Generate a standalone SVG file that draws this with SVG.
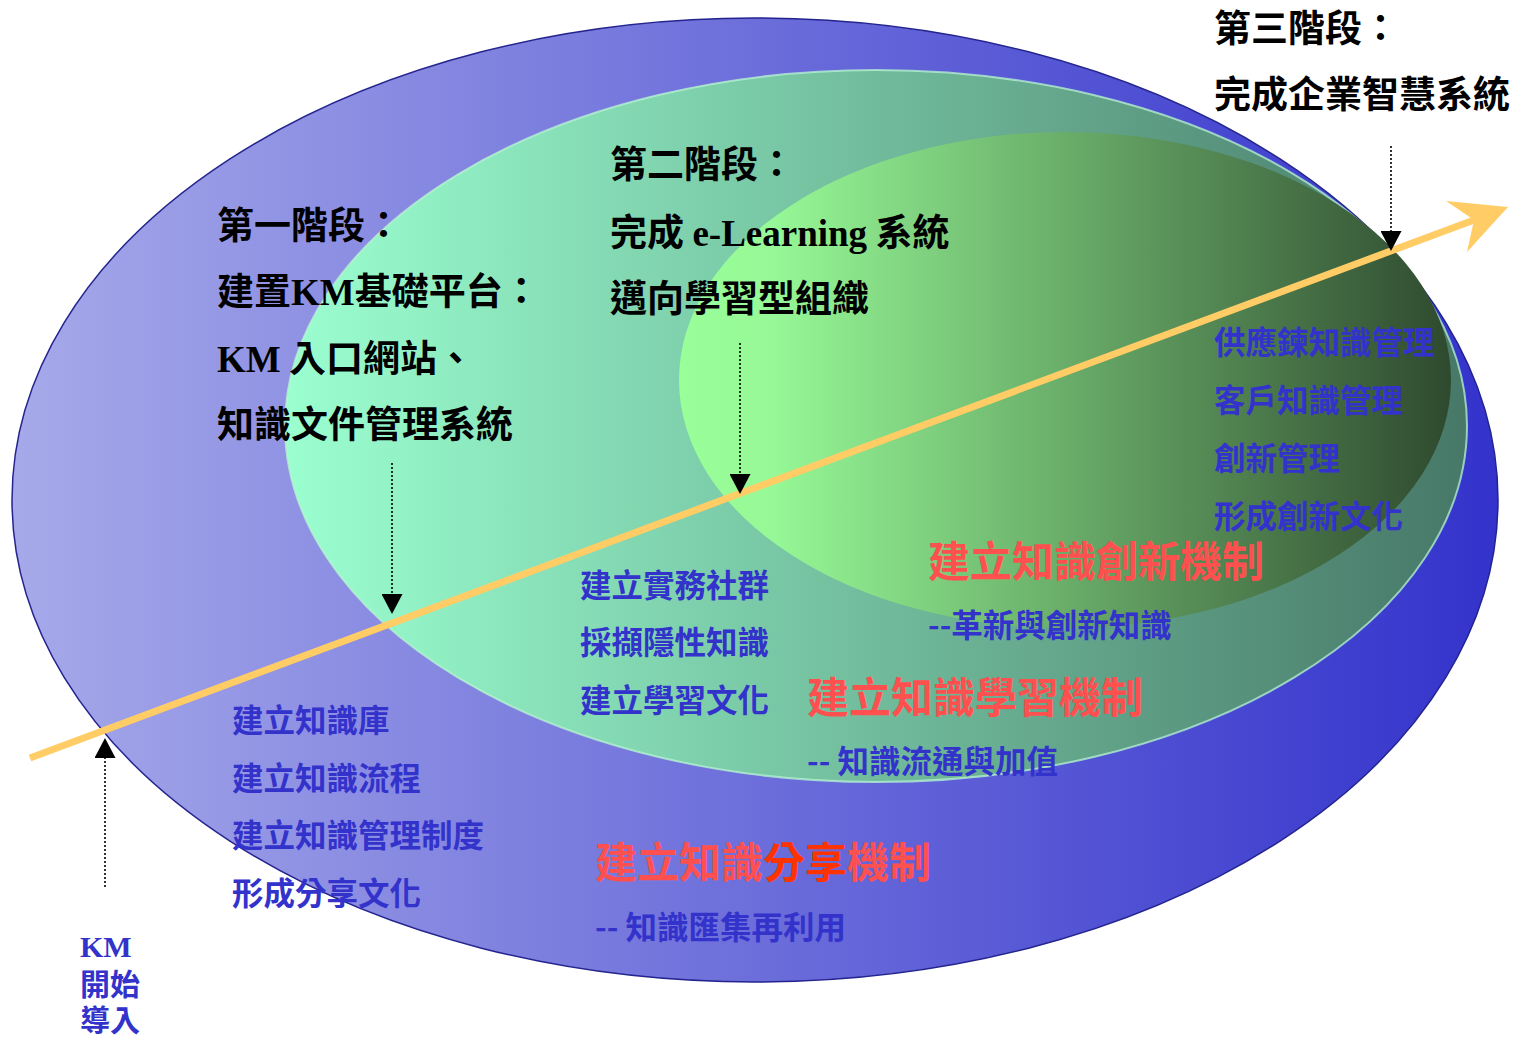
<svg xmlns="http://www.w3.org/2000/svg" width="1513" height="1038" viewBox="0 0 1513 1038">
<style>
.t{font-family:"Noto Sans CJK TC","Noto Sans CJK SC",sans-serif;font-weight:bold}
.stage{font-size:37px;fill:#000}
.lat{font-family:"Liberation Serif","Times New Roman",serif;font-weight:bold}
.blue{font-size:31.5px;fill:#3333CC}
.km{font-size:30px;fill:#3333CC}
.red{font-size:42px;fill:#FF5050}
.dot{stroke:#000;stroke-width:1.6;stroke-dasharray:2,2;fill:none}
</style>
<defs>
<linearGradient id="gOuter" gradientUnits="userSpaceOnUse" x1="12" y1="0" x2="1498" y2="0">
<stop offset="0" stop-color="#A6A9E9"/>
<stop offset="1" stop-color="#3333CC"/>
</linearGradient>
<linearGradient id="gMid" gradientUnits="userSpaceOnUse" x1="285" y1="0" x2="1468" y2="0">
<stop offset="0" stop-color="#9BFFD0"/>
<stop offset="1" stop-color="#477868"/>
</linearGradient>
<linearGradient id="gIn" gradientUnits="userSpaceOnUse" x1="680" y1="0" x2="1450" y2="0">
<stop offset="0" stop-color="#99FF99"/>
<stop offset="0.12" stop-color="#96F896"/>
<stop offset="1" stop-color="#2F4A2F"/>
</linearGradient>
<marker id="tri" viewBox="0 0 20 21" refX="0" refY="10.5" markerWidth="20" markerHeight="21" markerUnits="userSpaceOnUse" orient="auto">
<path d="M0,0 L20,10.5 L0,21 z" fill="#000"/>
</marker>
</defs>

<g id="stage1-area">
<ellipse cx="755" cy="500" rx="743" ry="482" fill="url(#gOuter)" stroke="#24248F" stroke-width="1.5"/>
</g>
<g id="stage2-area">
<ellipse cx="876" cy="426" rx="591" ry="356" fill="url(#gMid)" stroke="#B8F5D2" stroke-opacity="0.75" stroke-width="2"/>
</g>
<g id="stage3-area">
<ellipse cx="1065" cy="380" rx="386" ry="248" fill="url(#gIn)"/>
</g>

<g id="connectors">
<line x1="30" y1="758" x2="1474" y2="220" stroke="#FFCC66" stroke-width="7"/>
<polygon points="1508,207 1446,201 1474,220 1467,252" fill="#FFCC66"/>
<line class="dot" x1="105" y1="887" x2="105" y2="758" marker-end="url(#tri)"/>
<line class="dot" x1="392" y1="463" x2="392" y2="594" marker-end="url(#tri)"/>
<line class="dot" x1="740" y1="343" x2="740" y2="474" marker-end="url(#tri)"/>
<line class="dot" x1="1391" y1="146" x2="1391" y2="231" marker-end="url(#tri)"/>
</g>

<g id="stage3-label" class="t stage">
<text x="1214" y="42">第三階段：</text>
<text x="1214" y="108">完成企業智慧系統</text>
</g>
<g id="stage2-label" class="t stage">
<text x="610" y="178">第二階段：</text>
<text x="610" y="246">完成 <tspan class="lat">e-Learning</tspan> 系統</text>
<text x="610" y="312">邁向學習型組織</text>
</g>
<g id="stage1-label" class="t stage">
<text x="217" y="239">第一階段：</text>
<text x="217" y="305">建置<tspan class="lat">KM</tspan>基礎平台：</text>
<text x="217" y="372"><tspan class="lat">KM</tspan> 入口網站、</text>
<text x="217" y="438">知識文件管理系統</text>
</g>

<g id="stage3-items" class="t blue">
<text x="1214" y="354">供應鍊知識管理</text>
<text x="1214" y="412">客戶知識管理</text>
<text x="1214" y="470">創新管理</text>
<text x="1214" y="528">形成創新文化</text>
</g>
<g id="innovation-mechanism" class="t">
<text class="red" x="928" y="577">建立知識創新機制</text>
<text class="blue" x="928" y="637">--革新與創新知識</text>
</g>
<g id="stage2-items" class="t blue">
<text x="580" y="597">建立實務社群</text>
<text x="580" y="654">採擷隱性知識</text>
<text x="580" y="712">建立學習文化</text>
</g>
<g id="learning-mechanism" class="t">
<text class="red" x="807" y="713">建立知識學習機制</text>
<text class="blue" x="807" y="773">-- 知識流通與加值</text>
</g>
<g id="stage1-items" class="t blue">
<text x="232" y="732">建立知識庫</text>
<text x="232" y="790">建立知識流程</text>
<text x="232" y="847">建立知識管理制度</text>
<text x="232" y="905">形成分享文化</text>
</g>
<g id="sharing-mechanism" class="t">
<text class="red" x="595" y="878">建立知識<tspan fill="#FF3300">分享</tspan>機制</text>
<text class="blue" x="595" y="939">-- 知識匯集再利用</text>
</g>
<g id="km-start" class="t km">
<text x="80" y="957" class="lat">KM</text>
<text x="80" y="995">開始</text>
<text x="80" y="1031">導入</text>
</g>
</svg>
